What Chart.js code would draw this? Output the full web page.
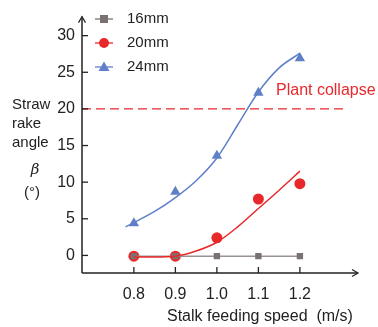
<!DOCTYPE html>
<html><head><meta charset="utf-8">
<script src="https://cdn.jsdelivr.net/npm/chart.js@4/dist/chart.umd.min.js"></script>
<style>html,body{margin:0;padding:0;background:#fff}#wrap{width:378px;height:327px}</style>
</head><body><div id="wrap"><canvas id="c" width="378" height="327"></canvas></div>
<script>
const speeds = [0.8, 0.9, 1.0, 1.1, 1.2];
const angle16 = [-0.1, -0.1, -0.1, -0.1, -0.1];
const angle20 = [-0.1, -0.1, 2.4, 7.7, 9.8];
const angle24 = [4.4, 8.7, 13.6, 22.2, 26.9];
const fitX20 = [0.8, 0.85, 0.9, 0.95, 1.0, 1.05, 1.1, 1.15, 1.2];
const fit20 = [-0.2, -0.2, -0.1, 0.6, 1.8, 3.9, 6.4, 8.9, 11.5];
const fitX24 = [0.78, 0.85, 0.9, 0.95, 1.0, 1.05, 1.1, 1.15, 1.2];
const fit24 = [3.9, 6.0, 7.9, 10.2, 13.3, 17.8, 22.3, 25.6, 27.6];
const collapseX = [0.675, 1.315];
const collapseY = [20, 20];
const yTicks = [0, 5, 10, 15, 20, 25, 30];
const seriesNames = ['16mm', '20mm', '24mm'];

const GRAY = '#7a7171', RED = '#e8282b', BLUE = '#5f80c8', AX = '#222';
const pts = (xs, ys) => xs.map((x, i) => ({x, y: ys[i]}));
const FONT = 'Liberation Sans, Arial, sans-serif';

const deco = {
  id: 'deco',
  afterDraw(chart) {
    const ctx = chart.ctx, xs = chart.scales.x, ys = chart.scales.y, a = chart.chartArea;
    ctx.save();
    ctx.strokeStyle = AX; ctx.fillStyle = AX; ctx.lineWidth = 1.5;
    ctx.beginPath(); ctx.moveTo(a.left, a.bottom); ctx.lineTo(a.left, a.top); ctx.stroke();
    ctx.beginPath(); ctx.moveTo(a.left, a.bottom); ctx.lineTo(a.right, a.bottom); ctx.stroke();
    ctx.lineWidth = 1.2;
    ctx.beginPath(); ctx.moveTo(a.left - 3.5, a.top + 6); ctx.lineTo(a.left, a.top); ctx.lineTo(a.left + 3.5, a.top + 6); ctx.stroke();
    ctx.beginPath(); ctx.moveTo(a.right - 6, a.bottom - 3.5); ctx.lineTo(a.right, a.bottom); ctx.lineTo(a.right - 6, a.bottom + 3.5); ctx.stroke();
    ctx.lineWidth = 1.3;
    yTicks.forEach(v => { const y = ys.getPixelForValue(v); ctx.beginPath(); ctx.moveTo(a.left, y); ctx.lineTo(a.left + 6, y); ctx.stroke(); });
    speeds.forEach(v => { const x = xs.getPixelForValue(v); ctx.beginPath(); ctx.moveTo(x, a.bottom); ctx.lineTo(x, a.bottom - 6); ctx.stroke(); });
    ctx.font = '15px ' + FONT; ctx.textBaseline = 'middle'; ctx.textAlign = 'left';
    ctx.fillStyle = '#222';
    ctx.fillText('Straw', 12, 105);
    ctx.fillText('rake', 12, 124);
    ctx.fillText('angle', 12, 143);
    ctx.font = 'italic 15px DejaVu Serif, serif'; ctx.textAlign = 'center';
    ctx.fillText('β', 35, 170);
    ctx.font = '15px ' + FONT;
    ctx.fillText('(°)', 32, 193);
    ctx.font = '16px ' + FONT; ctx.textAlign = 'left';
    ctx.fillText('Stalk feeding speed  (m/s)', 167, 317);
    ctx.fillStyle = RED;
    ctx.fillText('Plant collapse', 276, 91);
    ctx.font = '15px ' + FONT;
    const cols = [GRAY, RED, BLUE], rows = [19, 43, 67];
    rows.forEach((y, i) => {
      ctx.strokeStyle = cols[i]; ctx.fillStyle = cols[i]; ctx.lineWidth = 1.3;
      ctx.beginPath(); ctx.moveTo(95, y); ctx.lineTo(113, y); ctx.stroke();
      ctx.beginPath();
      if (i === 0) ctx.rect(100, y - 4, 8, 8);
      else if (i === 1) ctx.arc(104, y, 5, 0, Math.PI * 2);
      else { ctx.moveTo(104, y - 5.5); ctx.lineTo(109.5, y + 4); ctx.lineTo(98.5, y + 4); ctx.closePath(); }
      ctx.fill();
      ctx.fillStyle = '#222'; ctx.textAlign = 'left';
      ctx.fillText(seriesNames[i], 127, y);
    });
    ctx.restore();
  }
};

new Chart(document.getElementById('c'), {
  type: 'scatter',
  data: {
    datasets: [
      {label: 'collapse', data: pts(collapseX, collapseY), showLine: true, borderColor: RED, borderWidth: 1.3, borderDash: [9, 5], pointRadius: 0},
      {label: '20mm fit', data: pts(fitX20, fit20), showLine: true, borderColor: RED, borderWidth: 1.5, pointRadius: 0, cubicInterpolationMode: 'monotone'},
      {label: '24mm fit', data: pts(fitX24, fit24), showLine: true, borderColor: BLUE, borderWidth: 1.5, pointRadius: 0, cubicInterpolationMode: 'monotone'},
      {label: '16mm', data: pts(speeds, angle16), showLine: true, borderColor: '#9a9393', borderWidth: 1.5, backgroundColor: GRAY, pointStyle: 'rect', pointRadius: 4.5, pointBorderWidth: 0},
      {label: '20mm', data: pts(speeds, angle20), showLine: false, backgroundColor: RED, pointStyle: 'circle', pointRadius: 5.5, pointBorderWidth: 0},
      {label: '24mm', data: pts(speeds, angle24), showLine: false, backgroundColor: BLUE, pointStyle: 'triangle', pointRadius: 6, pointBorderWidth: 0}
    ]
  },
  options: {
    responsive: false, animation: false,
    layout: {padding: {left: 0, right: 20, top: 10, bottom: 0}},
    plugins: {legend: {display: false}, tooltip: {enabled: false}},
    scales: {
      x: {
        type: 'linear', min: 0.675, max: 1.34,
        afterBuildTicks: s => { s.ticks = speeds.map(v => ({value: v})); },
        afterFit: s => { s.height = 54; },
        grid: {display: false, drawTicks: false}, border: {display: false},
        ticks: {padding: 12, color: '#222', font: {size: 16, family: FONT}, callback: v => v.toFixed(1)}
      },
      y: {
        type: 'linear', min: -2.4, max: 32.6,
        afterBuildTicks: s => { s.ticks = yTicks.map(v => ({value: v})); },
        afterFit: s => { s.width = 82; },
        grid: {display: false, drawTicks: false}, border: {display: false},
        ticks: {padding: 7, color: '#222', font: {size: 16, family: FONT}}
      }
    }
  },
  plugins: [deco]
});
</script></body></html>
